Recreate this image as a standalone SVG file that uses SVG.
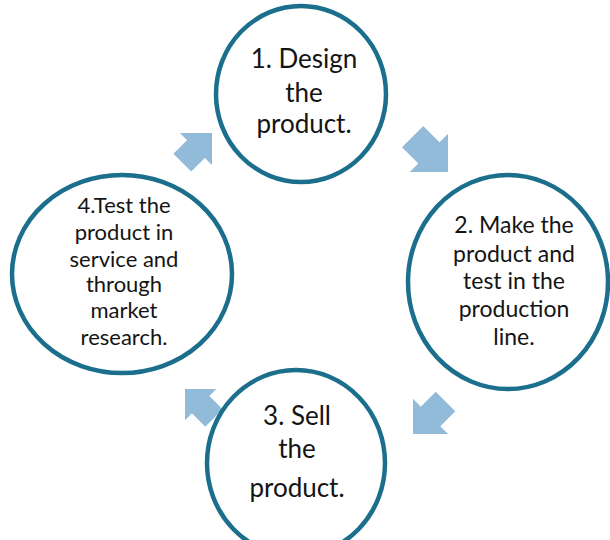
<svg xmlns="http://www.w3.org/2000/svg" width="610" height="540" viewBox="0 0 610 540">
<defs>
<style>
.node ellipse{fill:#ffffff;stroke:#1b6f8c;stroke-width:4.5}
.node text{font-family:Lato,"Liberation Sans",sans-serif;fill:#141414;text-anchor:middle}
.arrow{fill:#92bbd9}
</style>
<polygon id="blk" points="0,0 -27,-27 -27,-15 -50,-15 -50,15 -27,15 -27,27"/>
</defs>
<rect width="610" height="540" fill="#ffffff"/>
<g id="connectors">
<use href="#blk" class="arrow" transform="translate(448,172) rotate(45)"/>
<use href="#blk" class="arrow" transform="translate(413,434) rotate(135) scale(0.92)"/>
<use href="#blk" class="arrow" transform="translate(185,389) rotate(225) scale(0.82)"/>
<use href="#blk" class="arrow" transform="translate(212,133) rotate(-45) scale(0.84)"/>
</g>
<g id="node1" class="node">
<ellipse cx="301" cy="94" rx="85" ry="88"/>
<text font-size="26"><tspan x="304" y="68">1. Design</tspan><tspan x="304" y="102">the</tspan><tspan x="304" y="133">product.</tspan></text>
</g>
<g id="node2" class="node">
<ellipse cx="508" cy="282" rx="100" ry="107"/>
<text font-size="23"><tspan x="514" y="233">2. Make the</tspan><tspan x="514" y="262">product and</tspan><tspan x="514" y="289">test in the</tspan><tspan x="514" y="317">production</tspan><tspan x="514" y="345">line.</tspan></text>
</g>
<g id="node3" class="node">
<ellipse cx="296" cy="463" rx="89" ry="93"/>
<text font-size="26"><tspan x="297" y="425">3. Sell</tspan><tspan x="297" y="458">the</tspan><tspan x="297" y="497">product.</tspan></text>
</g>
<g id="node4" class="node">
<ellipse cx="122" cy="274" rx="110" ry="99"/>
<text font-size="22"><tspan x="124" y="213">4.Test the</tspan><tspan x="124" y="240">product in</tspan><tspan x="124" y="267">service and</tspan><tspan x="124" y="292">through</tspan><tspan x="124" y="318">market</tspan><tspan x="124" y="345">research.</tspan></text>
</g>
</svg>
